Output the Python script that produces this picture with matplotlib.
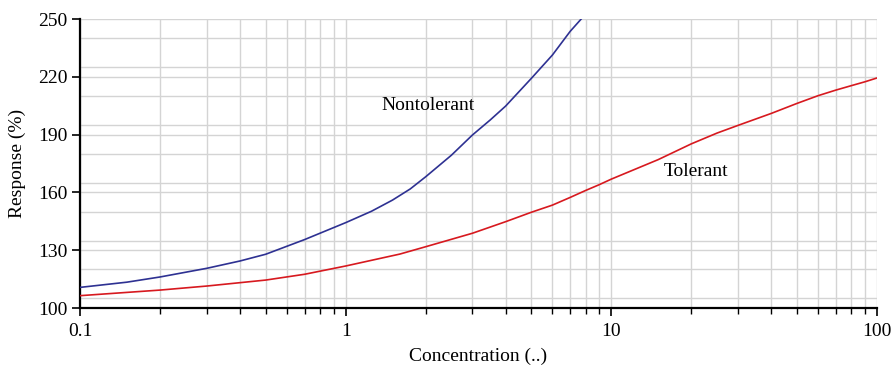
import matplotlib
matplotlib.use('Agg')
import matplotlib.pyplot as plt
import matplotlib.ticker as mticker
import numpy as np

# values
conc_nontol = [0.1, 0.15, 0.2, 0.3, 0.4, 0.5, 0.7, 1.0, 1.25, 1.5, 1.75, 2.0, 2.5, 3.0, 3.5, 4.0, 5.0, 6.0, 7.0, 7.7]
resp_nontol = [110.7, 113.4, 116.1, 120.6, 124.4, 127.9, 135.5, 144.3, 150.2, 156.0, 161.8, 168.1, 179.3, 189.8,
               197.6, 204.8, 219.2, 231.3, 243.6, 250.0]

conc_tol = [0.1, 0.2, 0.3, 0.5, 0.7, 1.0, 1.6, 2.0, 3.0, 4.0, 5.0, 6.0, 7.0, 8.0, 9.0, 10.0, 15.0, 20.0,
            25.0, 30.0, 40.0, 50.0, 60.0, 70.0, 80.0, 90.0, 100.0]
resp_tol = [106.4, 109.3, 111.4, 114.5, 117.5, 121.8, 128.0, 131.8, 138.8, 144.8, 149.7, 153.4, 157.4, 161.0,
            164.0, 166.9, 177.0, 185.2, 190.8, 194.8, 201.0, 206.2, 210.2, 213.1, 215.4, 217.4, 219.4]

y_major = [100, 130, 160, 190, 220, 250]
x_major = [0.1, 1, 10, 100]
x_labels = ['0.1', '1', '10', '100']

col_nontol = '#2e3192'
col_tol = '#d7191f'
col_grid = '#d4d4d4'

plt.rcParams['font.family'] = ['Liberation Serif', 'DejaVu Serif']

fig = plt.figure(figsize=(8.91, 3.69), dpi=100)
ax = fig.add_axes([0.0898, 0.1653, 0.8945, 0.7832])

ax.plot(conc_nontol, resp_nontol, color=col_nontol, linewidth=1.2, zorder=3)
ax.plot(conc_tol, resp_tol, color=col_tol, linewidth=1.2, zorder=3)

ax.set_xscale('log')
ax.set_xlim(0.1, 100)
ax.set_ylim(100, 250)

# x ticks
ax.set_xticks(x_major)
ax.set_xticklabels(x_labels)
ax.xaxis.set_minor_locator(mticker.LogLocator(base=10, subs=np.arange(2, 10)))
ax.xaxis.set_minor_formatter(mticker.NullFormatter())

# y ticks, grid every 15
ax.set_yticks(y_major)
ax.yaxis.set_minor_locator(mticker.MultipleLocator(15))

ax.tick_params(axis='x', which='major', direction='out', length=6, width=1.2, labelsize=14, pad=5)
ax.tick_params(axis='x', which='minor', direction='out', length=4, width=1.0)
ax.tick_params(axis='y', which='major', direction='out', length=6, width=1.2, labelsize=14, pad=3)
ax.tick_params(axis='y', which='minor', length=0)

ax.grid(True, which='both', axis='both', color=col_grid, linewidth=1.0)
ax.set_axisbelow(True)

ax.spines['top'].set_visible(False)
ax.spines['right'].set_visible(False)
ax.spines['left'].set_linewidth(1.6)
ax.spines['bottom'].set_linewidth(1.6)

ax.set_xlabel('Concentration (..)', fontsize=14, labelpad=5)
ax.set_ylabel('Response (%)', fontsize=14, labelpad=9)

# curve labels
ax.text(1.36, 205.3, 'Nontolerant', fontsize=14, va='center', ha='left')
ax.text(15.8, 170.6, 'Tolerant', fontsize=14, va='center', ha='left')

fig.savefig('out.png', dpi=100)
